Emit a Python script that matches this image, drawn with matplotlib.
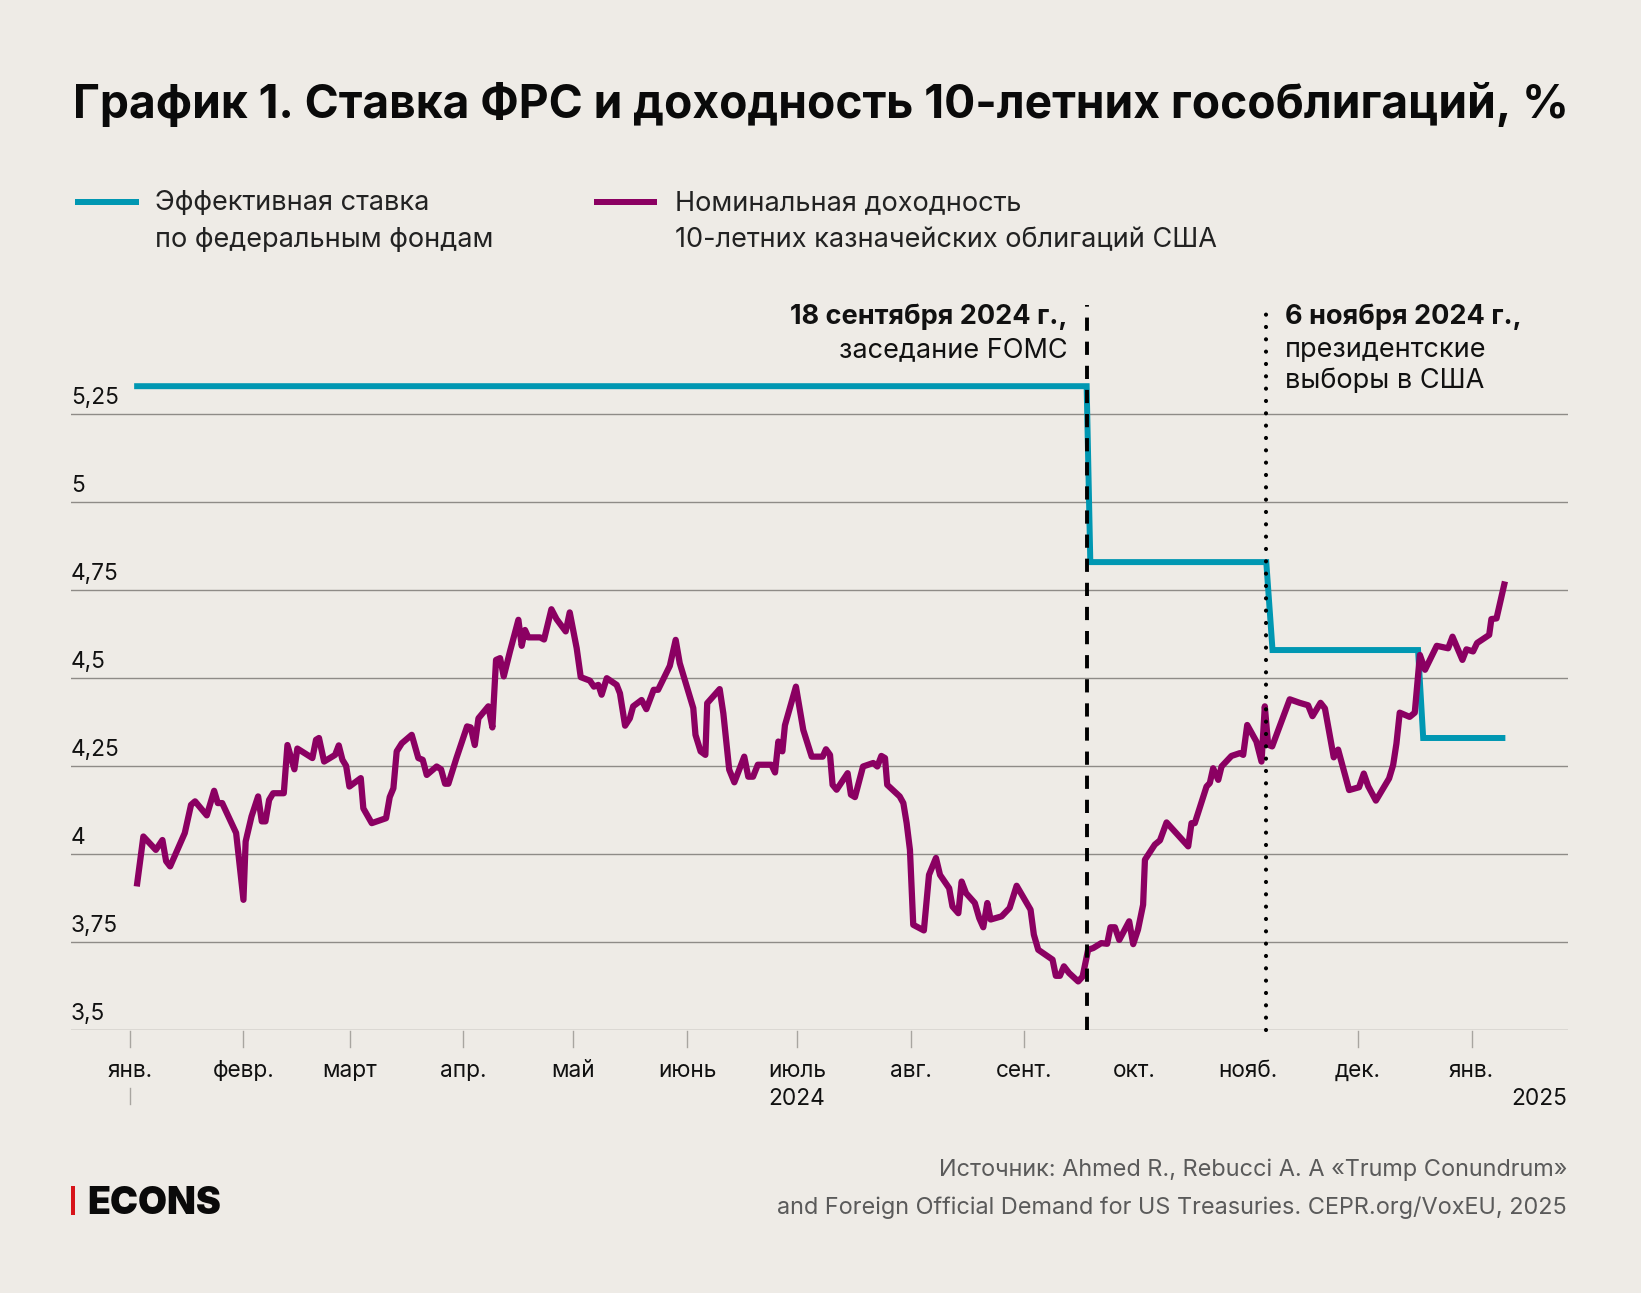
import matplotlib.pyplot as plt
from matplotlib.lines import Line2D
from matplotlib.patches import Rectangle

# --- Data (x = days since 1 Jan 2024) ---
fed_days = [2, 261, 262, 310, 311.7, 351.4, 352.8, 374.4]
fed_vals = [5.33, 5.33, 4.83, 4.83, 4.58, 4.58, 4.33, 4.33]

yield_days = [
    1.9, 3.7, 7.1, 8.9, 9.9, 11, 15, 16.7, 17.8, 21, 23, 24, 25.2, 29, 31, 31.6,
    33.2, 35, 36, 37, 38, 39.1, 42, 43, 44.9, 45.7, 49.8, 50.8, 51.6, 53, 56, 57,
    58, 59, 59.9, 63, 63.7, 66, 69.9, 70.9, 71.9, 72.8, 74.2, 76.9, 78.7, 79.9, 81,
    83.7, 84.9, 86, 86.9, 89.1,
    92, 93, 94.1, 95.1, 97.8, 98.9, 99.9, 101, 102, 103.7, 106, 106.9, 107.8, 108.7,
    111.9, 113, 115, 116.4, 118.9, 120, 121.9, 123, 125.5, 126.6, 127.8, 128.7, 130.1,
    132.8, 133.7, 135.1, 136.4, 137.3, 139.6, 140.9, 142.9, 144.1, 147.3, 148.9, 150,
    153.7, 154.3, 155.7, 157, 157.5, 160.9, 161.9, 163.5, 164.9, 167.6, 168.7, 170,
    171.3, 175, 176, 176.9, 178, 178.7, 181.7, 183.7, 186, 189, 189.9, 191, 191.7,
    192.8, 195.8, 196.7, 197.8,
    200, 202.8, 203.9, 205, 206, 206.6, 210, 211, 211.9, 212.8, 213.7, 216.6, 218,
    219.9, 221, 223.5, 224.4, 226, 226.9, 228.1, 230.5, 231.7, 232.8, 233.9, 234.8,
    237.8, 240, 241.9, 245.7, 246.6, 247.8, 251.7, 252.6, 253.7, 254.8, 256.2, 258.7,
    259.9, 261.4, 262.8, 265, 266.6, 267.5, 268.7, 269.9, 272.6, 273.7, 275, 276.4,
    276.9, 279.6, 281, 282.8, 288.7, 289.6, 290.5, 293.7, 294.6, 295.5, 296.9, 297.8,
    300.5, 302.8, 303.7, 304.8, 307.3, 308.7, 309.6, 310.5, 311.6,
    316.4, 319.1, 321.4, 322.6, 324.8, 326, 328.4, 329.6, 332.6, 335.3, 336.6, 337.8,
    339.9, 343.5, 344.6, 345.5, 346.4, 349.1, 350.5, 351.9, 353.3, 356.5, 359.6,
    360.8, 363.5, 364.6, 366.4, 367.5, 370.8, 371.4, 372.8, 375.1,
]
yield_vals = [
    3.908, 4.05, 4.012, 4.04, 3.98, 3.965, 4.06, 4.14, 4.15, 4.11, 4.18, 4.145, 4.145,
    4.06, 3.87, 4.036, 4.107, 4.164, 4.093, 4.093, 4.154, 4.173, 4.173, 4.31, 4.241,
    4.30, 4.273, 4.325, 4.33, 4.263, 4.282, 4.309, 4.268, 4.251, 4.192, 4.216, 4.13,
    4.088, 4.102, 4.162, 4.187, 4.292, 4.315, 4.339, 4.273, 4.268, 4.225, 4.249,
    4.241, 4.2, 4.2, 4.273,
    4.363, 4.36, 4.31, 4.386, 4.42, 4.36, 4.552, 4.557, 4.505, 4.576, 4.666, 4.592,
    4.637, 4.616, 4.616, 4.61, 4.696, 4.668, 4.633, 4.687, 4.585, 4.503, 4.493, 4.476,
    4.481, 4.453, 4.5, 4.481, 4.457, 4.365, 4.386, 4.42, 4.438, 4.412, 4.467, 4.467,
    4.535, 4.609, 4.543, 4.415, 4.339, 4.292, 4.282, 4.429, 4.469, 4.4, 4.24, 4.204,
    4.277, 4.22, 4.22, 4.254, 4.254, 4.232, 4.32, 4.292, 4.366, 4.476, 4.353, 4.277,
    4.277, 4.298, 4.282, 4.197, 4.183, 4.23, 4.169, 4.162,
    4.249, 4.259, 4.249, 4.279, 4.273, 4.197, 4.164, 4.145, 4.088, 4.012, 3.799, 3.783,
    3.941, 3.989, 3.941, 3.903, 3.851, 3.832, 3.922, 3.889, 3.861, 3.818, 3.792, 3.861,
    3.814, 3.823, 3.847, 3.91, 3.842, 3.771, 3.728, 3.7, 3.654, 3.654, 3.681, 3.662,
    3.638, 3.652, 3.728, 3.733, 3.747, 3.745, 3.792, 3.792, 3.756, 3.809, 3.744, 3.785,
    3.856, 3.984, 4.027, 4.039, 4.09, 4.022, 4.088, 4.088, 4.192, 4.202, 4.244, 4.211,
    4.249, 4.279, 4.287, 4.282, 4.367, 4.32, 4.263, 4.42, 4.311, 4.306,
    4.44, 4.43, 4.423, 4.392, 4.43, 4.414, 4.275, 4.297, 4.182, 4.19, 4.229, 4.193,
    4.152, 4.215, 4.253, 4.314, 4.402, 4.39, 4.402, 4.566, 4.524, 4.592, 4.585, 4.618,
    4.552, 4.582, 4.576, 4.6, 4.623, 4.668, 4.67, 4.775,
]

y_ticks = [3.5, 3.75, 4.0, 4.25, 4.5, 4.75, 5.0, 5.25]
y_labels = ["3,5", "3,75", "4", "4,25", "4,5", "4,75", "5", "5,25"]
month_days = [0, 31, 60, 91, 121, 152, 182, 213, 244, 274, 305, 335, 366]
month_labels = ["янв.", "февр.", "март", "апр.", "май", "июнь", "июль", "авг.",
                "сент.", "окт.", "нояб.", "дек.", "янв."]
no_tick = ["окт.", "нояб."]
fomc_day = 261      # 18 Sep 2024
election_day = 310  # 6 Nov 2024

# --- Style ---
BG = "#EEEBE6"
TEAL = "#0097B2"
PURPLE = "#8B0062"
GRID = "#8E8B87"
FONT = ["Inter", "DejaVu Sans"]
plt.rcParams["font.family"] = FONT
LEG_FS = 19.5
TICK_FS = 16.3

W, H = 1641, 1293
fig = plt.figure(figsize=(W / 100, H / 100), dpi=100, facecolor=BG)


def fx(x):
    return x / W


def fy(y):
    return 1 - y / H


# axes placement (pixels): x 71..1568, y value 3.5 at 1030, 5.6 at ~291
ax = fig.add_axes([fx(71), fy(1030), fx(1568) - fx(71), fy(291.2) - fy(1030)])
ax.set_facecolor(BG)
ax.set_xlim(-16.04, 392.3)
ax.set_ylim(3.5, 5.6)
for s in ax.spines.values():
    s.set_visible(False)
ax.set_xticks([])
ax.set_yticks([])

# grid lines + y labels sitting just above them
for v, lab in zip(y_ticks, y_labels):
    ax.axhline(v, color=GRID, lw=1.0, zorder=1)
    ax.text(0, v + 0.015, lab, transform=ax.get_yaxis_transform(), ha="left",
            va="bottom", fontsize=TICK_FS, color="#111111")

# event lines
ax.plot([fomc_day, fomc_day], [3.5, 5.56], color="black", lw=2.8,
        linestyle=(0, (3.4, 2.8)), zorder=4, clip_on=False)
ax.plot([election_day, election_day], [3.5, 5.56], color="black", lw=3.0,
        linestyle=(0, (0.01, 2.95)), dash_capstyle="round", zorder=4, clip_on=False)

# series
ax.plot(fed_days, fed_vals, color=TEAL, lw=4.3, solid_joinstyle="miter", zorder=3)
ax.plot(yield_days, yield_vals, color=PURPLE, lw=4.5, solid_joinstyle="round",
        solid_capstyle="butt", zorder=3)

# x ticks and labels (drawn manually below the axis)
for d, lab in zip(month_days, month_labels):
    xf = ax.transData.transform((d, 3.5))[0] / W
    if lab not in no_tick:
        fig.add_artist(Line2D([xf, xf], [fy(1031), fy(1047)], color="#A8A5A0", lw=1.0))
    fig.text(xf, fy(1077), lab, ha="center", va="baseline", fontsize=TICK_FS,
             color="#111111")
x_jan = ax.transData.transform((0, 3.5))[0] / W
fig.add_artist(Line2D([x_jan, x_jan], [fy(1088), fy(1104)], color="#A8A5A0", lw=1.0))
x_jul = ax.transData.transform((182, 3.5))[0] / W
fig.text(x_jul, fy(1105), "2024", ha="center", va="baseline", fontsize=TICK_FS,
         color="#111111")
fig.text(fx(1567), fy(1105), "2025", ha="right", va="baseline", fontsize=TICK_FS,
         color="#111111")

# annotations
x_fomc = ax.transData.transform((fomc_day, 3.5))[0] / W
x_elec = ax.transData.transform((election_day, 3.5))[0] / W
fig.text(x_fomc - fx(19), fy(324), "18 сентября 2024 г.,", ha="right", va="baseline",
         fontsize=LEG_FS, fontweight="bold", color="#111111")
fig.text(x_fomc - fx(19), fy(357), "заседание FOMC", ha="right", va="baseline",
         fontsize=LEG_FS, color="#111111")
fig.text(x_elec + fx(19), fy(324), "6 ноября 2024 г.,", ha="left", va="baseline",
         fontsize=LEG_FS, fontweight="bold", color="#111111")
fig.text(x_elec + fx(19), fy(357), "президентские", ha="left", va="baseline",
         fontsize=LEG_FS, color="#111111")
fig.text(x_elec + fx(19), fy(388), "выборы в США", ha="left", va="baseline",
         fontsize=LEG_FS, color="#111111")

# title
fig.text(fx(73), fy(118), "График 1. Ставка ФРС и доходность 10-летних гособлигаций, %",
         ha="left", va="baseline", fontsize=33.2, fontweight="bold", color="#0A0A0A")

# legend
fig.add_artist(Rectangle((fx(75), fy(205)), fx(139) - fx(75), fy(199) - fy(205),
                         color=TEAL, lw=0))
fig.text(fx(155), fy(210), "Эффективная ставка", ha="left", va="baseline",
         fontsize=LEG_FS, color="#222222")
fig.text(fx(155), fy(247), "по федеральным фондам", ha="left", va="baseline",
         fontsize=LEG_FS, color="#222222")
fig.add_artist(Rectangle((fx(594), fy(205)), fx(657) - fx(594), fy(199) - fy(205),
                         color=PURPLE, lw=0))
fig.text(fx(675), fy(210), "Номинальная доходность", ha="left", va="baseline",
         fontsize=LEG_FS, color="#222222")
fig.text(fx(675), fy(247), "10-летних казначейских облигаций США", ha="left",
         va="baseline", fontsize=LEG_FS, color="#222222")

# source and logo
fig.text(fx(1567), fy(1176), "Источник: Ahmed R., Rebucci A. A «Trump Conundrum»",
         ha="right", va="baseline", fontsize=16.9, color="#5A5A5A")
fig.text(fx(1567), fy(1214),
         "and Foreign Official Demand for US Treasuries. CEPR.org/VoxEU, 2025",
         ha="right", va="baseline", fontsize=16.9, color="#5A5A5A")
fig.add_artist(Rectangle((fx(71), fy(1215)), fx(75) - fx(71), fy(1186) - fy(1215),
                         color="#D7141A", lw=0))
fig.text(fx(87), fy(1214), "ECONS", ha="left", va="baseline", fontsize=27,
         fontweight="black", color="#0A0A0A")

fig.savefig("out.png", dpi=100, facecolor=BG)
